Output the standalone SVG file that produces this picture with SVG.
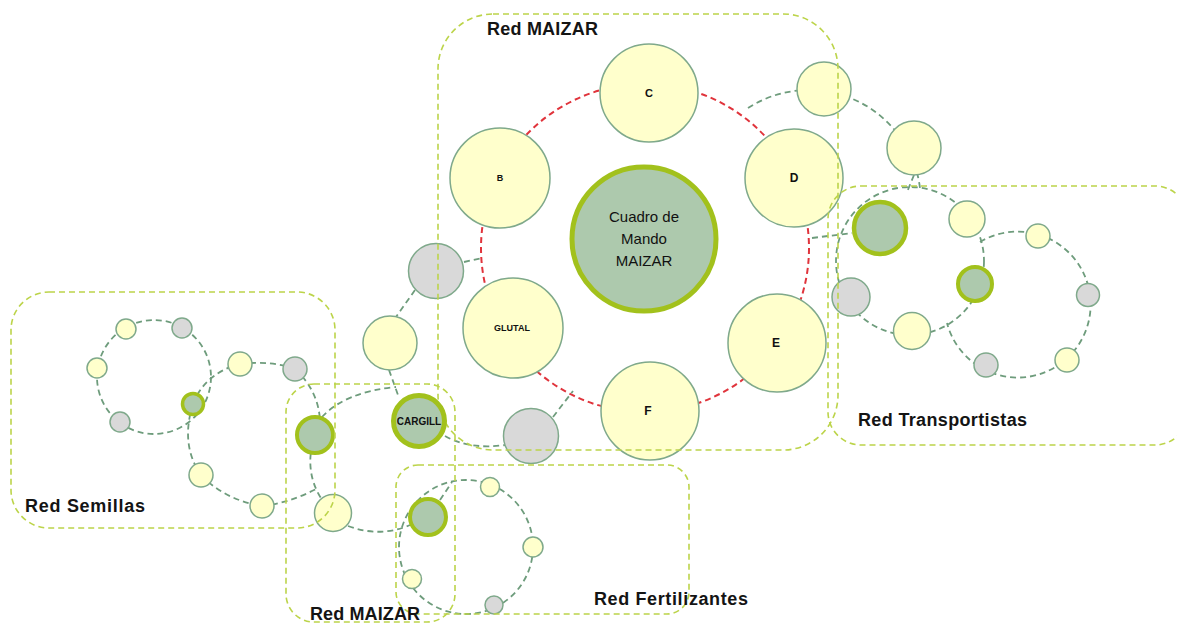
<svg xmlns="http://www.w3.org/2000/svg" width="1177" height="623" viewBox="0 0 1177 623">
<style>
.y{fill:#ffffcc;stroke:#7fa98b;stroke-width:1.5}
.g{fill:#d9d9d9;stroke:#7fa98b;stroke-width:1.5}
.s{fill:#adc9ad;stroke:#a2c11c}
.box{fill:none;stroke:#bcd44a;stroke-width:1.6;stroke-dasharray:6 4}
.con{fill:none;stroke:#6e9c7c;stroke-width:1.8;stroke-dasharray:6 4}
.red{fill:none;stroke:#e0343c;stroke-width:2;stroke-dasharray:6 4}
.lbl{font-family:"Liberation Sans",Arial,sans-serif;font-weight:bold;font-size:18px;fill:#141414}
.nl{font-family:"Liberation Sans",Arial,sans-serif;font-weight:bold;fill:#111;text-anchor:middle}
.ct{font-family:"Liberation Sans",Arial,sans-serif;font-size:15px;fill:#111;text-anchor:middle}
</style>
<rect width="1177" height="623" fill="#ffffff"/>
<g id="connectors">
<circle class="red" cx="645" cy="248" r="164"/>
<path class="con" d="M748,108 A112,112 0 0 1 920,188"/>
<path class="con" d="M914,175 L907,192"/>
<circle class="con" cx="910" cy="261" r="74"/>
<path class="con" d="M980,242 A73,73 0 1 1 947,323"/>
<path class="con" d="M812,238 L852,233"/>
<path class="con" d="M464,262 L482,258"/>
<path class="con" d="M415,290 L396,317"/>
<path class="con" d="M389,370 L398,395"/>
<path class="con" d="M553,417 L573,391"/>
<path class="con" d="M445,436 Q470,450 505,445"/>
<circle class="con" cx="154" cy="377" r="57"/>
<path class="con" d="M193,404 Q205,373 240,364"/>
<path class="con" d="M240,364 Q270,360 295,369"/>
<path class="con" d="M295,369 Q318,390 320,420"/>
<path class="con" d="M315,434 Q300,480 333,513"/>
<path class="con" d="M262,506 Q290,503 318,488"/>
<path class="con" d="M201,475 Q225,500 262,506"/>
<path class="con" d="M193,404 Q180,445 201,475"/>
<path class="con" d="M322,417 Q345,392 396,387"/>
<path class="con" d="M348,526 Q380,538 410,525"/>
<circle class="con" cx="466" cy="547" r="67"/>
<path class="con" d="M440,500 L452,482"/>
</g>
<g id="node-cuadro"><circle class="s" cx="644" cy="239" r="72" stroke-width="5"/>
<text class="ct" x="644" y="222">Cuadro de</text><text class="ct" x="644" y="244">Mando</text><text class="ct" x="644" y="266">MAIZAR</text></g>
<g id="node-C"><circle class="y" cx="649" cy="93" r="49"/><text class="nl" x="649" y="97" font-size="11">C</text></g>
<g id="node-B"><circle class="y" cx="500" cy="178" r="50"/><text class="nl" x="500" y="181" font-size="9">B</text></g>
<g id="node-D"><circle class="y" cx="794" cy="178" r="49"/><text class="nl" x="794" y="182" font-size="12">D</text></g>
<g id="node-GLUTAL"><circle class="y" cx="513" cy="328" r="50"/><text class="nl" x="512" y="331" font-size="9">GLUTAL</text></g>
<g id="node-E"><circle class="y" cx="777" cy="343" r="49"/><text class="nl" x="776" y="347" font-size="12">E</text></g>
<g id="node-F"><circle class="y" cx="650" cy="411" r="49"/><text class="nl" x="648" y="415" font-size="12">F</text></g>
<g id="node-t1"><circle class="y" cx="824" cy="89" r="27"/></g>
<g id="node-t2"><circle class="y" cx="914" cy="148" r="27"/></g>
<g id="node-t3"><circle class="s" cx="880" cy="228" r="26" stroke-width="4.5"/></g>
<g id="node-t4"><circle class="y" cx="967" cy="219" r="18"/></g>
<g id="node-t5"><circle class="s" cx="975" cy="284" r="17" stroke-width="4"/></g>
<g id="node-t6"><circle class="y" cx="1038" cy="236" r="12"/></g>
<g id="node-t7"><circle class="g" cx="1088" cy="295" r="11.5"/></g>
<g id="node-t8"><circle class="y" cx="1067" cy="360" r="12"/></g>
<g id="node-t9"><circle class="g" cx="986" cy="365" r="12"/></g>
<g id="node-t10"><circle class="y" cx="912" cy="331" r="18.5"/></g>
<g id="node-t11"><circle class="g" cx="851" cy="297" r="19"/></g>
<g id="node-l1"><circle class="g" cx="436" cy="271" r="27.5"/></g>
<g id="node-l2"><circle class="y" cx="390" cy="343" r="27"/></g>
<g id="node-l3"><circle class="g" cx="531" cy="436" r="27.5"/></g>
<g id="node-m1"><circle class="s" cx="315" cy="435" r="18" stroke-width="4"/></g>
<g id="node-m2"><circle class="y" cx="333" cy="513" r="18.5"/></g>
<g id="node-m3"><circle class="s" cx="428" cy="517" r="18" stroke-width="4"/></g>
<g id="node-s1"><circle class="y" cx="126" cy="329" r="10"/></g>
<g id="node-s2"><circle class="g" cx="182" cy="328" r="10"/></g>
<g id="node-s3"><circle class="y" cx="97" cy="368" r="10"/></g>
<g id="node-s4"><circle class="g" cx="120" cy="422" r="10"/></g>
<g id="node-s5"><circle class="s" cx="193" cy="404" r="10.5" stroke-width="3.5"/></g>
<g id="node-s6"><circle class="y" cx="240" cy="364" r="12"/></g>
<g id="node-s7"><circle class="g" cx="295" cy="369" r="12"/></g>
<g id="node-s8"><circle class="y" cx="201" cy="475" r="12"/></g>
<g id="node-s9"><circle class="y" cx="262" cy="506" r="12"/></g>
<g id="node-f1"><circle class="y" cx="490" cy="487" r="9.5"/></g>
<g id="node-f2"><circle class="y" cx="533" cy="547" r="10"/></g>
<g id="node-f3"><circle class="y" cx="412" cy="579" r="9.5"/></g>
<g id="node-f4"><circle class="g" cx="494" cy="605" r="9"/></g>
<g id="groups">
<rect class="box" x="438" y="14" width="400" height="436" rx="55"/>
<rect class="box" x="828" y="186" width="360" height="259" rx="33"/>
<rect class="box" x="11" y="292" width="324" height="236" rx="38"/>
<rect class="box" x="286" y="384" width="169" height="238" rx="28"/>
<rect class="box" x="396" y="465" width="293" height="149" rx="22"/>
</g>
<g id="node-CARGILL"><circle class="s" cx="419" cy="421" r="25.5" stroke-width="5"/><text class="nl" x="419" y="425" font-size="10">CARGILL</text></g>
<g id="labels">
<text class="lbl" x="487" y="35" textLength="111">Red MAIZAR</text>
<text class="lbl" x="858" y="426" textLength="169">Red Transportistas</text>
<text class="lbl" x="25" y="512" textLength="120">Red Semillas</text>
<text class="lbl" x="310" y="620" textLength="110">Red MAIZAR</text>
<text class="lbl" x="594" y="605" textLength="154">Red Fertilizantes</text>
</g>
</svg>
